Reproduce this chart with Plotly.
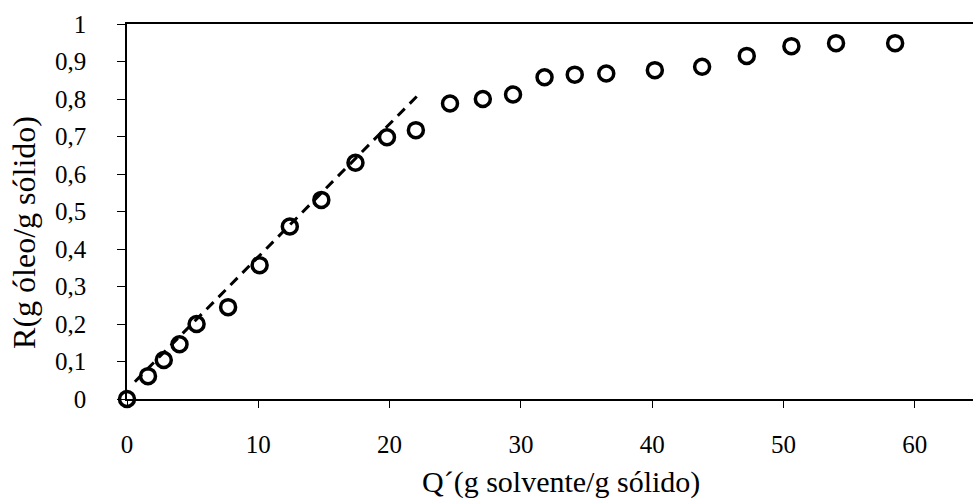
import plotly.graph_objects as go

# Experimental data: Q' (g solvente/g sólido) vs R (g óleo/g sólido)
q_values = [0.0, 1.6, 2.8, 4.0, 5.3, 7.7, 10.1, 12.4, 14.8, 17.4, 19.8, 22.0,
            24.6, 27.1, 29.4, 31.8, 34.1, 36.5, 40.2, 43.8, 47.2, 50.6, 54.0, 58.5]
r_values = [0.0, 0.061, 0.104, 0.146, 0.200, 0.245, 0.357, 0.460, 0.531, 0.630, 0.698, 0.717,
            0.788, 0.800, 0.812, 0.858, 0.865, 0.868, 0.877, 0.886, 0.915, 0.941, 0.949, 0.949]

# Linear fit (dashed line) end points
fit_x = [0.6, 22.3]
fit_y = [0.046, 0.815]

y_ticks = [0, 0.1, 0.2, 0.3, 0.4, 0.5, 0.6, 0.7, 0.8, 0.9, 1.0]
x_ticks = [0, 10, 20, 30, 40, 50, 60]

x_title = "Q´(g solvente/g sólido)"
y_title = "R(g óleo/g sólido)"

font_family = "Liberation Serif"

fig = go.Figure()
fig.add_trace(go.Scatter(
    x=fit_x, y=fit_y, mode="lines",
    line=dict(color="black", width=3, dash="10px,7px"),
    showlegend=False, hoverinfo="skip",
))
fig.add_trace(go.Scatter(
    x=q_values, y=r_values, mode="markers",
    marker=dict(symbol="circle-open", size=15, color="black", line=dict(width=3.5, color="black")),
    showlegend=False, cliponaxis=False,
))

fig.add_annotation(
    text=x_title, xref="paper", yref="paper", x=0.513, y=-0.222,
    xanchor="center", yanchor="middle", showarrow=False,
    font=dict(family=font_family, size=30, color="black"),
)
fig.add_annotation(
    text=y_title, xref="paper", yref="paper", x=-0.122, y=0.445,
    xanchor="center", yanchor="middle", showarrow=False, textangle=-90,
    font=dict(family=font_family, size=32, color="black"),
)

fig.update_layout(
    width=973, height=503,
    margin=dict(l=127, r=0, t=24, b=104),
    paper_bgcolor="white", plot_bgcolor="white",
    separators=",.",
    font=dict(family=font_family, size=25, color="black"),
    xaxis=dict(
        range=[0, 64.43], tickvals=x_ticks, showgrid=False, zeroline=False,
        showline=True, linecolor="black", linewidth=1.5, mirror=True,
        ticks="outside", ticklen=7, tickcolor="black", tickwidth=1,
        ticklabelstandoff=15, tickfont=dict(size=25),
    ),
    yaxis=dict(
        range=[0, 1], tickvals=y_ticks, showgrid=False, zeroline=False,
        showline=True, linecolor="black", linewidth=1.5,
        ticks="outside", ticklen=8, tickcolor="black", tickwidth=1,
        ticklabelstandoff=26, tickfont=dict(size=25),
    ),
)

fig.write_html("out.html")
